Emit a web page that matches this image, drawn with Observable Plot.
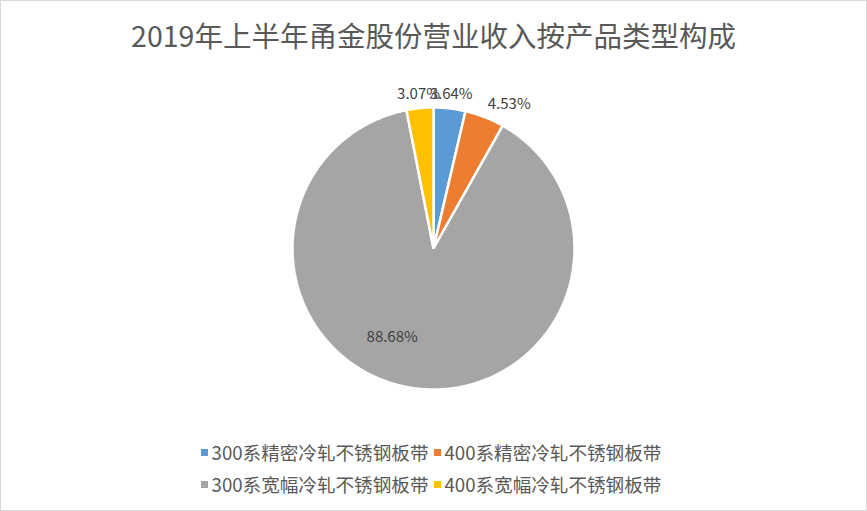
<!DOCTYPE html>
<html>
<head>
<meta charset="utf-8">
<script src="https://cdn.jsdelivr.net/npm/d3@7"></script>
<script src="https://cdn.jsdelivr.net/npm/@observablehq/plot@0.6"></script>
<style>
  html, body { margin: 0; padding: 0; background: #fff; }
  #chart { position: relative; width: 867px; height: 511px; overflow: hidden; font-family: "Noto Sans CJK SC", "Noto Sans", sans-serif; }
  #frame { position: absolute; left: 0; top: 0; width: 867px; height: 511px; box-sizing: border-box; border: 1px solid #d9d9d9; pointer-events: none; }
  #title { position: absolute; left: 0; width: 867px; top: 21px; text-align: center; font-size: 28.5px; line-height: 28px; color: #595959; white-space: nowrap; }
  #plot { position: absolute; left: 0; top: 0; }
  #legend { position: absolute; left: 0; width: 867px; top: 436px; display: flex; justify-content: center; }
  #legend .grid { display: grid; grid-template-columns: auto auto; column-gap: 0px; }
  #legend .item { display: flex; align-items: center; font-size: 18.6px; line-height: 32px; color: #595959; white-space: nowrap; padding-right: 5px; }
  #legend .sw { width: 7px; height: 7px; margin-right: 4px; }
</style>
</head>
<body>
<div id="chart">
  <div id="title"></div>
  <div id="plot"></div>
  <div id="legend"><div class="grid"></div></div>
  <div id="frame"></div>
</div>
<script>
const title = "2019年上半年甬金股份营业收入按产品类型构成";
const categories = ["300系精密冷轧不锈钢板带", "400系精密冷轧不锈钢板带", "300系宽幅冷轧不锈钢板带", "400系宽幅冷轧不锈钢板带"];
const shares = [3.64, 4.53, 88.68, 3.07];
const labels = ["3.64%", "4.53%", "88.68%", "3.07%"];
const colors = ["#5B9BD5", "#ED7D31", "#A5A5A5", "#FFC000"];

document.getElementById("title").textContent = title;

const data = categories.map((c, i) => ({name: c, value: shares[i], label: labels[i]}));
const arcs = d3.pie().sort(null).value(d => d.value)(data);

// polygon points for each slice (angle clockwise from 12 o'clock)
const pts = [];
for (const a of arcs) {
  pts.push({name: a.data.name, x: 0, y: 0});
  const n = Math.max(4, Math.ceil((a.endAngle - a.startAngle) / (Math.PI / 360)));
  for (let k = 0; k <= n; k++) {
    const t = a.startAngle + (a.endAngle - a.startAngle) * k / n;
    pts.push({name: a.data.name, x: Math.sin(t), y: Math.cos(t)});
  }
}

// label positions
const lab = arcs.map(a => {
  const m = (a.startAngle + a.endAngle) / 2;
  const outside = a.data.value < 10;
  const r = outside ? 1.1 : 0.68;
  const s = Math.sin(m);
  return {
    label: a.data.label,
    x: r * s,
    y: r * Math.cos(m),
    outside,
    anchor: !outside ? "middle" : (s > 0.3 ? "start" : (s < -0.3 ? "end" : "middle"))
  };
});

const cx = 433, cy = 248, R = 141;
const plot = Plot.plot({
  width: 867,
  height: 511,
  margin: 0,
  x: {domain: [-1, 1], range: [cx - R, cx + R], axis: null},
  y: {domain: [-1, 1], range: [cy + R, cy - R], axis: null},
  color: {domain: categories, range: colors},
  style: {fontFamily: "'Noto Sans CJK SC', 'Noto Sans', sans-serif", background: "transparent"},
  marks: [
    Plot.line(pts, {x: "x", y: "y", z: "name", fill: "name", stroke: "white", strokeWidth: 2.5, strokeLinejoin: "miter", curve: "linear-closed"}),
    Plot.text(lab.filter(d => d.outside && d.anchor === "middle"), {x: "x", y: "y", text: "label", textAnchor: "middle", fill: "#404040", fontSize: 15}),
    Plot.text(lab.filter(d => d.outside && d.anchor === "start"), {x: "x", y: "y", text: "label", textAnchor: "start", dx: -2, fill: "#404040", fontSize: 15}),
    Plot.text(lab.filter(d => d.outside && d.anchor === "end"), {x: "x", y: "y", text: "label", textAnchor: "end", fill: "#404040", fontSize: 15}),
    Plot.text(lab.filter(d => !d.outside), {x: "x", y: "y", text: "label", textAnchor: "middle", dx: -26, dy: -6, fill: "#404040", fontSize: 15})
  ]
});
document.getElementById("plot").appendChild(plot);

const grid = document.querySelector("#legend .grid");
categories.forEach((c, i) => {
  const item = document.createElement("div");
  item.className = "item";
  const sw = document.createElement("span");
  sw.className = "sw";
  sw.style.background = colors[i];
  const tx = document.createElement("span");
  tx.textContent = c;
  item.appendChild(sw);
  item.appendChild(tx);
  grid.appendChild(item);
});
</script>
</body>
</html>
